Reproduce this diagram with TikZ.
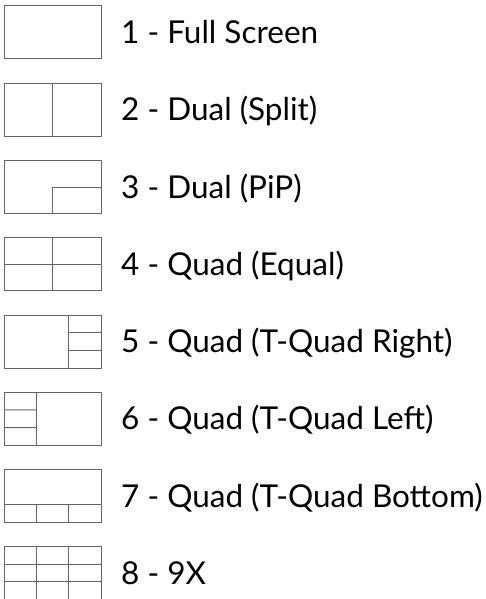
\documentclass[tikz,border=0pt]{standalone}
\usepackage{fontspec}
\setmainfont{Lato}
\usetikzlibrary{calc}
\definecolor{linegray}{RGB}{100,100,100}
\begin{document}
\begin{tikzpicture}[x=1pt,y=-1pt,
  screen/.style={draw=linegray, line width=1pt, minimum width=96.5pt, minimum height=53pt, anchor=north west, inner sep=0pt, outer sep=0pt},
  div/.style={draw=linegray, line width=1pt},
  lab/.style={anchor=base west, font=\fontsize{31.5}{36}\selectfont, inner sep=0pt, text=black}]
\useasboundingbox (0,0) rectangle (485,599);
% screens
\node[screen] (s1) at (4.5,6) {};
\node[screen] (s2) at (4.5,83.25) {};
\node[screen] (s3) at (4.5,160.5) {};
\node[screen] (s4) at (4.5,237.75) {};
\node[screen] (s5) at (4.5,315) {};
\node[screen] (s6) at (4.5,392.25) {};
\node[screen] (s7) at (4.5,469.5) {};
\node[screen] (s8) at (4.5,546.5) {};
% 2 split
\draw[div] (s2.north) -- (s2.south);
% 3 pip
\draw[div] (s3.south) -- (s3.center) -- (s3.east);
% 4 quad
\draw[div] (s4.north) -- (s4.south);
\draw[div] (s4.west) -- (s4.east);
% 5 T-quad right
\coordinate (r5t) at ($(s5.north west)!2/3!(s5.north east)$);
\coordinate (r5b) at ($(s5.south west)!2/3!(s5.south east)$);
\draw[div] (r5t) -- (r5b);
\draw[div] ($(r5t)!1/3!(r5b)$) -- ($(s5.north east)!1/3!(s5.south east)$);
\draw[div] ($(r5t)!2/3!(r5b)$) -- ($(s5.north east)!2/3!(s5.south east)$);
% 6 T-quad left
\coordinate (l6t) at ($(s6.north west)!1/3!(s6.north east)$);
\coordinate (l6b) at ($(s6.south west)!1/3!(s6.south east)$);
\draw[div] (l6t) -- (l6b);
\draw[div] ($(s6.north west)!1/3!(s6.south west)$) -- ($(l6t)!1/3!(l6b)$);
\draw[div] ($(s6.north west)!2/3!(s6.south west)$) -- ($(l6t)!2/3!(l6b)$);
% 7 T-quad bottom
\coordinate (b7l) at ($(s7.north west)!2/3!(s7.south west)$);
\coordinate (b7r) at ($(s7.north east)!2/3!(s7.south east)$);
\draw[div] (b7l) -- (b7r);
\draw[div] ($(b7l)!1/3!(b7r)$) -- ($(s7.south west)!1/3!(s7.south east)$);
\draw[div] ($(b7l)!2/3!(b7r)$) -- ($(s7.south west)!2/3!(s7.south east)$);
% 8 9X
\draw[div] ($(s8.north west)!1/3!(s8.north east)$) -- ($(s8.south west)!1/3!(s8.south east)$);
\draw[div] ($(s8.north west)!2/3!(s8.north east)$) -- ($(s8.south west)!2/3!(s8.south east)$);
\draw[div] ($(s8.north west)!1/3!(s8.south west)$) -- ($(s8.north east)!1/3!(s8.south east)$);
\draw[div] ($(s8.north west)!2/3!(s8.south west)$) -- ($(s8.north east)!2/3!(s8.south east)$);
% labels
\node[lab] (t1) at ($(s1.east)+(20,11)$) {1 - Full Screen};
\node[lab] (t2) at ($(s2.east)+(20,11)$) {2 - Dual (Split)};
\node[lab] (t3) at ($(s3.east)+(20,11)$) {3 - Dual (PiP)};
\node[lab] (t4) at ($(s4.east)+(20,11)$) {4 - Quad (Equal)};
\node[lab] (t5) at ($(s5.east)+(20,11)$) {5 - Quad (T-Quad Right)};
\node[lab] (t6) at ($(s6.east)+(20,11)$) {6 - Quad (T-Quad Left)};
\node[lab] (t7) at ($(s7.east)+(20,11)$) {7 - Quad (T-Quad Bottom)};
\node[lab] (t8) at ($(s8.east)+(20,11)$) {8 - 9X};
\end{tikzpicture}
\end{document}
